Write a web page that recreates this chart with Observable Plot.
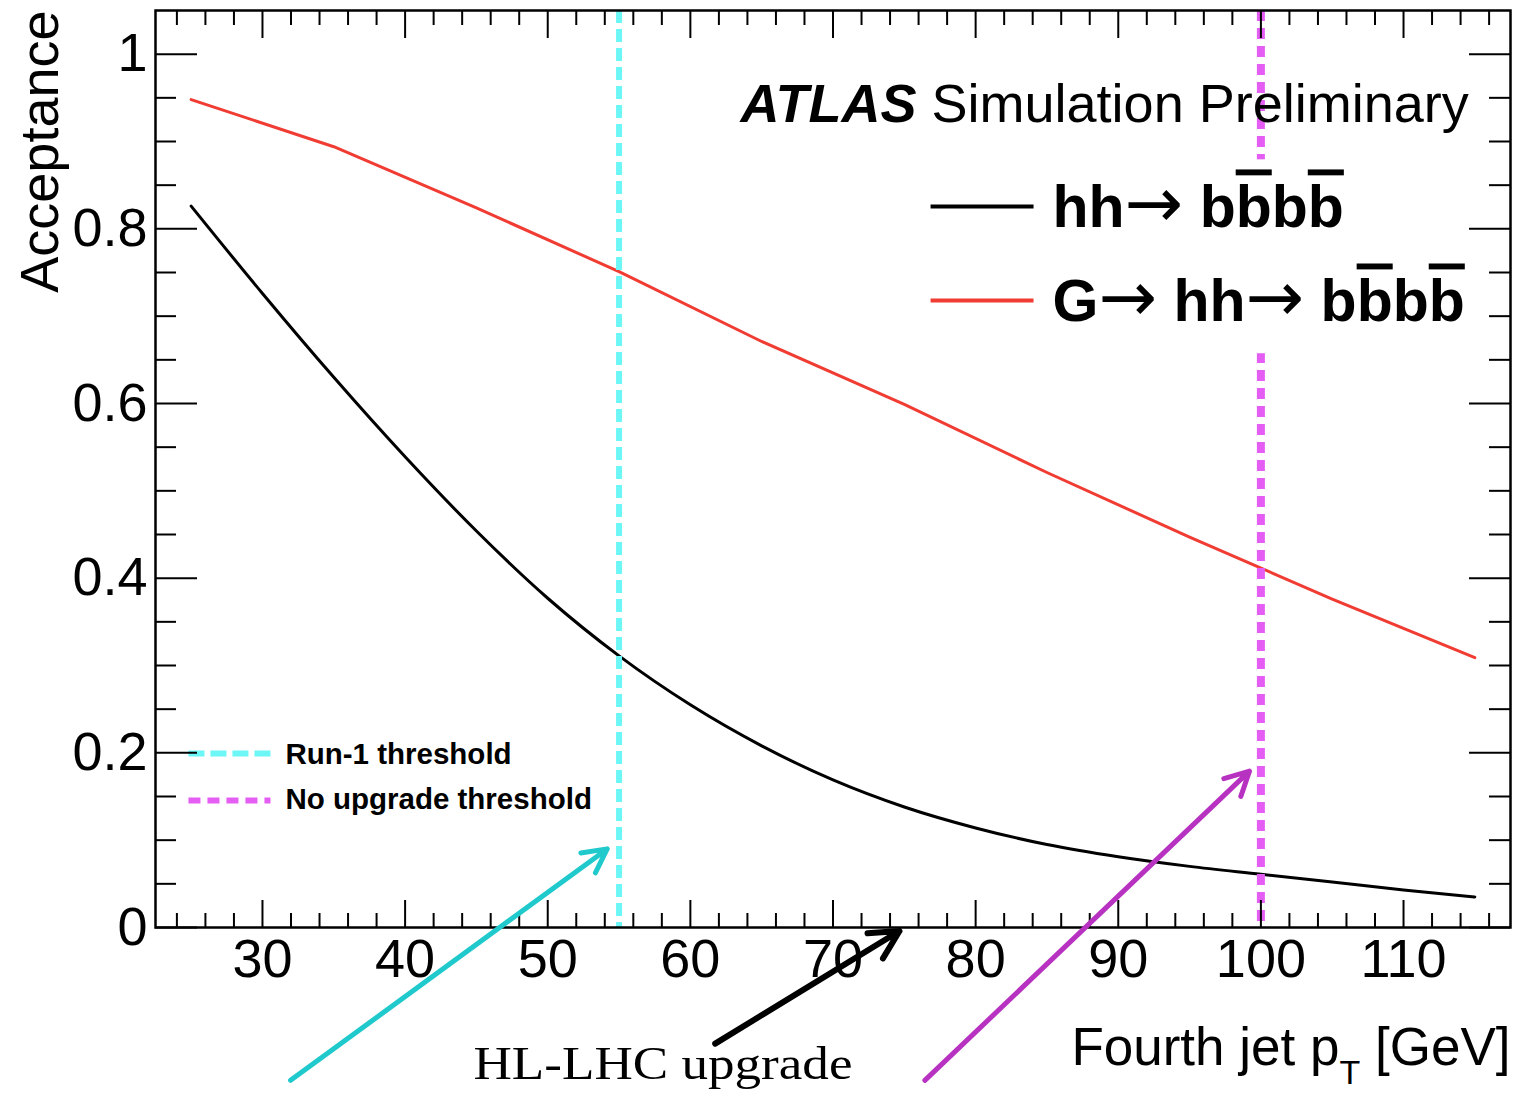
<!DOCTYPE html>
<html><head><meta charset="utf-8">
<script src="https://cdn.jsdelivr.net/npm/d3@7"></script>
<script src="https://cdn.jsdelivr.net/npm/@observablehq/plot@0.6"></script>
<style>html,body{margin:0;padding:0;background:#fff;}</style>
</head><body><div id="chart"></div>
<script>
// ---- data ----
const hhPt = [25,30,35,40,45,50,55,60,65,70,75,80,85,90,95,100,105,110,115];
const hhAcceptance = [0.826,0.726,0.630,0.539,0.454,0.377,0.311,0.255,0.208,0.169,0.138,0.114,0.095,0.081,0.070,0.061,0.052,0.043,0.035];
const gPt = [25,35,45,55,65,75,85,95,105,115];
const gAcceptance = [0.948,0.894,0.824,0.751,0.671,0.599,0.521,0.447,0.376,0.309];
const thresholdPt = [55, 100];
const thresholdNames = ["Run-1 threshold", "No upgrade threshold"];
const xMajorTicks = [30,40,50,60,70,80,90,100,110];
const xMinorTicks = [24,26,28,32,34,36,38,42,44,46,48,52,54,56,58,62,64,66,68,72,74,76,78,82,84,86,88,92,94,96,98,102,104,106,108,112,114,116];
const yMajorTicks = [0,0.2,0.4,0.6,0.8,1];
const yMinorTicks = [0.05,0.1,0.15,0.25,0.3,0.35,0.45,0.5,0.55,0.65,0.7,0.75,0.85,0.9,0.95];
const seriesNames = ["hh→ bb̄bb̄", "G→ hh→ bb̄bb̄"];
// annotation arrows (tail -> head), in data units
const annotArrowX1 = [31.97, 61.74, 76.44];
const annotArrowY1 = [-0.175, -0.133, -0.175];
const annotArrowX2 = [54.17, 74.66, 99.2];
const annotArrowY2 = [0.090, -0.004, 0.179];

// ---- styling / layout ----
const RED = "#f03c32", CYAN = "#6cf6f6", MAGENTA = "#e55ef4";
const arrowColors = ["#1fc9cc", "#000000", "#b832c2"];
const arrowWidths = [5, 6, 5];
const W = 1522, H = 1093, ML = 155, MR = 12, MT = 10, MB = 166;
const PW = W - ML - MR, PH = H - MT - MB;
const legendBox = {x1: 86.3, x2: 116.5, y1: 0.657, y2: 0.879};

const hhRows = hhPt.map((p, i) => ({pt: p, acc: hhAcceptance[i]}));
const gRows = gPt.map((p, i) => ({pt: p, acc: gAcceptance[i]}));
const arrows = annotArrowX1.map((x, i) => ({x1: x, y1: annotArrowY1[i], x2: annotArrowX2[i], y2: annotArrowY2[i], color: arrowColors[i], w: arrowWidths[i]}));

const yFmt = d => d === 0 ? "0" : d === 1 ? "1" : String(d);

const plot = Plot.plot({
  width: W, height: H,
  marginLeft: ML, marginRight: MR, marginTop: MT, marginBottom: MB,
  x: {domain: [22.5, 117.5]},
  y: {domain: [0, 1.05]},
  style: {fontFamily: "'Liberation Sans', Arial, Helvetica, sans-serif", background: "white", overflow: "visible"},
  marks: [
    Plot.line(hhRows, {x: "pt", y: "acc", curve: "monotone-x", stroke: "#000", strokeWidth: 3}),
    Plot.line(gRows, {x: "pt", y: "acc", stroke: RED, strokeWidth: 3}),
    Plot.ruleX([thresholdPt[0]], {x: d => d, stroke: CYAN, strokeWidth: 6, strokeDasharray: "13,6"}),
    Plot.ruleX([thresholdPt[1]], {x: d => d, stroke: MAGENTA, strokeWidth: 8, strokeDasharray: "11,7"}),
    Plot.rect([legendBox], {x1: "x1", x2: "x2", y1: "y1", y2: "y2", fill: "white"}),
    // legend line samples
    Plot.link([{x1: 76.84, x2: 84.06, y: 0.8256}], {x1: "x1", x2: "x2", y1: "y", y2: "y", stroke: "#000", strokeWidth: 4}),
    Plot.link([{x1: 76.84, x2: 84.06, y: 0.718}], {x1: "x1", x2: "x2", y1: "y", y2: "y", stroke: RED, strokeWidth: 4}),
    Plot.link([{x1: 24.81, x2: 30.56, y: 0.1992}], {x1: "x1", x2: "x2", y1: "y", y2: "y", stroke: CYAN, strokeWidth: 6, strokeDasharray: "16,6"}),
    Plot.link([{x1: 24.81, x2: 30.56, y: 0.1454}], {x1: "x1", x2: "x2", y1: "y", y2: "y", stroke: MAGENTA, strokeWidth: 6, strokeDasharray: "12,7"}),
    // ticks (ROOT style, inward, on all four sides)
    Plot.tickX(xMajorTicks, {x: d => d, insetTop: PH - 27, stroke: "#000", strokeWidth: 2}),
    Plot.tickX(xMinorTicks, {x: d => d, insetTop: PH - 14, stroke: "#000", strokeWidth: 2}),
    Plot.tickX(xMajorTicks, {x: d => d, insetBottom: PH - 28, stroke: "#000", strokeWidth: 2}),
    Plot.tickX(xMinorTicks, {x: d => d, insetBottom: PH - 15, stroke: "#000", strokeWidth: 2}),
    Plot.tickY(yMajorTicks, {y: d => d, insetRight: PW - 42, stroke: "#000", strokeWidth: 2}),
    Plot.tickY(yMinorTicks, {y: d => d, insetRight: PW - 21, stroke: "#000", strokeWidth: 2}),
    Plot.tickY(yMajorTicks, {y: d => d, insetLeft: PW - 41, stroke: "#000", strokeWidth: 2}),
    Plot.tickY(yMinorTicks, {y: d => d, insetLeft: PW - 21, stroke: "#000", strokeWidth: 2}),
    Plot.frame({stroke: "#000", strokeWidth: 2.5}),
    Plot.axisX({ticks: xMajorTicks, tickSize: 0, tickPadding: 11, fontSize: 54, label: null, tickFormat: d => String(d)}),
    Plot.axisY({ticks: yMajorTicks, tickSize: 0, tickPadding: 8, fontSize: 54, label: null, tickFormat: yFmt}),
    // titles and legend texts
    Plot.text(["Acceptance"], {x: 15.63, y: 1.05, rotate: -90, textAnchor: "end", lineAnchor: "bottom", fontSize: 54}),
    Plot.text(["Fourth jet pT [GeV]"], {x: 117.5, y: -0.158, textAnchor: "end", lineAnchor: "bottom", fontSize: 53}),
    Plot.text(["ATLAS Simulation Preliminary"], {x: 63.52, y: 0.9218, textAnchor: "start", lineAnchor: "bottom", fontSize: 54}),
    Plot.text([seriesNames[0]], {x: 85.39, y: 0.8016, textAnchor: "start", lineAnchor: "bottom", fontSize: 59, fontWeight: "bold"}),
    Plot.text([seriesNames[1]], {x: 85.39, y: 0.6939, textAnchor: "start", lineAnchor: "bottom", fontSize: 59, fontWeight: "bold"}),
    Plot.text([thresholdNames[0]], {x: 31.61, y: 0.1872, textAnchor: "start", lineAnchor: "bottom", fontSize: 29.5, fontWeight: "bold"}),
    Plot.text([thresholdNames[1]], {x: 31.61, y: 0.1357, textAnchor: "start", lineAnchor: "bottom", fontSize: 29.5, fontWeight: "bold"}),
    Plot.text(["HL-LHC upgrade"], {x: 58.08, y: -0.1733, textAnchor: "middle", lineAnchor: "bottom", fontSize: 46, fontFamily: "'Liberation Serif', 'Times New Roman', serif"}),
    // annotation arrows
    ...arrows.map(a => Plot.arrow([a], {x1: "x1", y1: "y1", x2: "x2", y2: "y2", stroke: a.color, strokeWidth: a.w, headAngle: 55, headLength: 8}))
  ]
});
document.getElementById("chart").appendChild(plot);

// rich text post-processing (overlines, subscripts, mixed weights)
const NS = "http://www.w3.org/2000/svg";
function rich(str, parts) {
  plot.querySelectorAll("text").forEach(t => {
    if (t.textContent !== str) return;
    t.textContent = "";
    for (const p of parts) {
      const ts = document.createElementNS(NS, "tspan");
      ts.textContent = p.t;
      for (const [k, v] of Object.entries(p.a || {})) ts.setAttribute(k, v);
      t.appendChild(ts);
    }
  });
}
const OL = {style: "text-decoration: overline"};
const ARR = {"font-weight": "normal", "font-family": "'DejaVu Sans', sans-serif", "font-size": "70"};
rich(seriesNames[0], [{t: "hh"}, {t: "→", a: ARR}, {t: " b"}, {t: "b", a: OL}, {t: "b"}, {t: "b", a: OL}]);
rich(seriesNames[1], [{t: "G"}, {t: "→", a: ARR}, {t: " hh"}, {t: "→", a: ARR}, {t: " b"}, {t: "b", a: OL}, {t: "b"}, {t: "b", a: OL}]);
rich("ATLAS Simulation Preliminary", [{t: "ATLAS", a: {"font-weight": "bold", "font-style": "italic"}}, {t: " Simulation Preliminary"}]);
rich("Fourth jet pT [GeV]", [{t: "Fourth jet p"}, {t: "T", a: {dy: "19", "font-size": "34", fill: "#000"}}, {t: " [GeV]", a: {dy: "-19"}}]);
plot.querySelectorAll("text").forEach(t => {
  if (t.textContent === "HL-LHC upgrade") { t.setAttribute("textLength", "379"); t.setAttribute("lengthAdjust", "spacingAndGlyphs"); }
});
</script>
</body></html>
